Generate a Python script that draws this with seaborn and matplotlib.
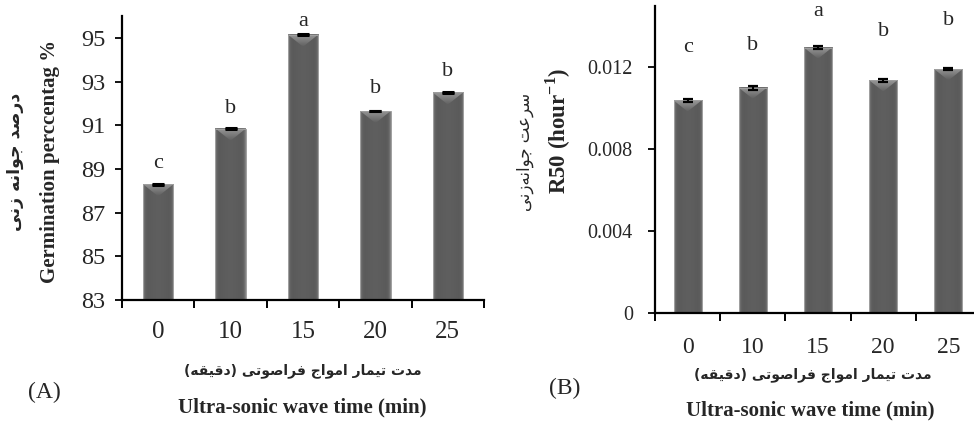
import numpy as np
import pandas as pd
import matplotlib
matplotlib.use("Agg")
import matplotlib.pyplot as plt
from matplotlib.patches import Polygon
import seaborn as sns

# ---- data ----
times = ["0", "10", "15", "20", "25"]
germination = [88.3, 90.85, 95.15, 91.65, 92.5]
germination_err = [0.02, 0.02, 0.02, 0.02, 0.02]
germination_groups = ["c", "b", "a", "b", "b"]

r50 = [0.01039, 0.01101, 0.01297, 0.01137, 0.01191]
r50_err = [0.00008, 0.0001, 0.00007, 0.00008, 0.00006]
r50_groups = ["c", "b", "a", "b", "b"]

germ_ticks = [83, 85, 87, 89, 91, 93, 95]
r50_ticks = [0, 0.004, 0.008, 0.012]
r50_ticklabels = ["0", "0.004", "0.008", "0.012"]

# ---- Persian text shaping (contextual forms + visual order) ----
FORMS = {
    "\u0627": ("\uFE8D", "\uFE8E", None, None),
    "\u062F": ("\uFEA9", "\uFEAA", None, None),
    "\u0631": ("\uFEAD", "\uFEAE", None, None),
    "\u0632": ("\uFEAF", "\uFEB0", None, None),
    "\u0648": ("\uFEED", "\uFEEE", None, None),
    "\u0635": ("\uFEB9", "\uFEBA", "\uFEBB", "\uFEBC"),
    "\u062C": ("\uFE9D", "\uFE9E", "\uFE9F", "\uFEA0"),
    "\u0646": ("\uFEE5", "\uFEE6", "\uFEE7", "\uFEE8"),
    "\u0647": ("\uFEE9", "\uFEEA", "\uFEEB", "\uFEEC"),
    "\u0633": ("\uFEB1", "\uFEB2", "\uFEB3", "\uFEB4"),
    "\u0639": ("\uFEC9", "\uFECA", "\uFECB", "\uFECC"),
    "\u062A": ("\uFE95", "\uFE96", "\uFE97", "\uFE98"),
    "\u0645": ("\uFEE1", "\uFEE2", "\uFEE3", "\uFEE4"),
    "\u0641": ("\uFED1", "\uFED2", "\uFED3", "\uFED4"),
    "\u0642": ("\uFED5", "\uFED6", "\uFED7", "\uFED8"),
    "\u06CC": ("\uFBFC", "\uFBFD", "\uFBFE", "\uFBFF"),
}
MIRROR = {"(": ")", ")": "("}


def rtl(text):
    chars = list(text)
    out = []
    for i, c in enumerate(chars):
        if c not in FORMS:
            if c != "\u200c":
                out.append(MIRROR.get(c, c))
            continue
        prev = chars[i - 1] if i > 0 else None
        nxt = chars[i + 1] if i + 1 < len(chars) else None
        iso, fin, ini, med = FORMS[c]
        join_prev = prev in FORMS and FORMS[prev][2] is not None
        join_next = ini is not None and nxt in FORMS
        if join_prev and join_next:
            out.append(med)
        elif join_prev:
            out.append(fin)
        elif join_next:
            out.append(ini)
        else:
            out.append(iso)
    return "".join(reversed(out))


# ---- style ----
sns.set_theme(style="white")
plt.rcParams["font.family"] = ["Liberation Serif", "DejaVu Sans"]
plt.rcParams["mathtext.fontset"] = "custom"
plt.rcParams["mathtext.rm"] = "Liberation Serif"
plt.rcParams["mathtext.bf"] = "Liberation Serif:bold"

fig = plt.figure(figsize=(9.74, 4.21), dpi=100)
ax1 = fig.add_axes([0.1253, 0.2874, 0.3717, 0.6746])
ax2 = fig.add_axes([0.6725, 0.2565, 0.3347, 0.7292])

# horizontal shading across a bar: light rim, dark body
_t = np.abs(np.linspace(-1, 1, 240))
_g = 0.33 + 0.24 * _t ** 10 + 0.04 * (1 - _t ** 2)
BAR_RGB = np.dstack([_g, _g, _g])[None, 0, :, :]
# vertical shading for the bevel at the top (top row first)
_v = np.linspace(0.60, 0.37, 60)
BEVEL_RGB = np.dstack([_v, _v, _v]).reshape(60, 1, 3)


def style_bars(ax, ylim):
    ax.set_xlim(-0.5, len(times) - 0.5)
    ax.set_ylim(*ylim)
    ax.autoscale(False)
    shapes = []
    for p in list(ax.patches):
        x0, y0 = p.get_x(), p.get_y()
        w, h = p.get_width(), p.get_height()
        top_disp = ax.transData.transform([(x0, y0 + h), (x0 + w, y0 + h)])
        wpx = top_disp[1, 0] - top_disp[0, 0]
        apex = ax.transData.inverted().transform(
            [(top_disp[0, 0] + wpx / 2, top_disp[0, 1] - 0.40 * wpx)])[0]
        shapes.append((p, x0, y0, w, h, apex))
    for p, x0, y0, w, h, apex in shapes:
        im = ax.imshow(BAR_RGB, aspect="auto",
                       extent=[x0, x0 + w, max(y0, ylim[0]), y0 + h],
                       zorder=2, interpolation="bilinear")
        im.set_clip_path(p)
        im.set_clip_box(ax.bbox)
        tri = Polygon([(x0, y0 + h), (x0 + w, y0 + h), (apex[0], apex[1])],
                      closed=True, facecolor="none", edgecolor="none",
                      zorder=3)
        ax.add_patch(tri)
        bev = ax.imshow(BEVEL_RGB, aspect="auto",
                        extent=[x0, x0 + w, apex[1], y0 + h], zorder=3,
                        interpolation="bilinear")
        bev.set_clip_path(tri)
        p.set_facecolor("none")
        p.set_edgecolor("#a0a0a0")
        p.set_linewidth(0.7)
        p.set_zorder(4)
    ax.set_xlim(-0.5, len(times) - 0.5)
    ax.set_ylim(*ylim)


def frame(ax):
    for s in ("top", "right"):
        ax.spines[s].set_visible(False)
    for s in ("left", "bottom"):
        ax.spines[s].set_color("black")
        ax.spines[s].set_linewidth(1.6)
        ax.spines[s].set_zorder(5)
    ax.set_xticks(np.arange(len(times)))
    ax.set_xticks(np.arange(-0.5, len(times), 1.0), minor=True)
    ax.tick_params(axis="x", which="major", length=0, pad=15)
    ax.tick_params(axis="x", which="minor", length=6, width=1.4,
                   direction="out", color="black", bottom=True)
    ax.tick_params(axis="y", length=5, width=1.3, direction="out",
                   color="black", left=True)
    ax.set_xlabel("")
    ax.set_ylabel("")


# ---- panel A ----
dfa = pd.DataFrame({"time": times, "value": germination})
sns.barplot(data=dfa, x="time", y="value", ax=ax1, width=0.42,
            color="#555555", errorbar=None)
frame(ax1)
ax1.set_yticks(germ_ticks)
ax1.set_yticklabels([str(t) for t in germ_ticks], fontsize=17.5)
ax1.set_xticklabels(times, fontsize=18)
ax1.tick_params(axis="y", pad=7)
style_bars(ax1, (83, 96))
ax1.errorbar(np.arange(len(times)), germination, yerr=germination_err,
             fmt="none", ecolor="black", elinewidth=1.5, capsize=4.5,
             capthick=2.2, zorder=6)
for i, (v, g, off) in enumerate(zip(germination, germination_groups,
                                    [12, 11.5, 6.5, 13, 12])):
    ax1.annotate(g, (i, v), xytext=(0, off), textcoords="offset points",
                 ha="center", va="baseline", fontsize=16,
                 annotation_clip=False)

# ---- panel B ----
dfb = pd.DataFrame({"time": times, "value": r50})
sns.barplot(data=dfb, x="time", y="value", ax=ax2, width=0.43,
            color="#555555", errorbar=None)
frame(ax2)
ax2.set_yticks(r50_ticks)
ax2.set_yticklabels(r50_ticklabels, fontsize=14.5)
ax2.set_xticklabels(times, fontsize=17)
ax2.tick_params(axis="y", pad=11)
ax2.tick_params(axis="x", which="major", pad=17)
style_bars(ax2, (0, 0.015))
ax2.errorbar(np.arange(len(times)), r50, yerr=r50_err, fmt="none",
             ecolor="black", elinewidth=1.5, capsize=3.8, capthick=1.6,
             zorder=6)
for i, (v, g, off) in enumerate(zip(r50, r50_groups, [35, 27, 23, 32, 32])):
    ax2.annotate(g, (i, v), xytext=(0, off), textcoords="offset points",
                 ha="center", va="baseline", fontsize=16,
                 annotation_clip=False)

# ---- axis titles ----
fa = ["DejaVu Sans"]
fig.text(0.0154, 0.615, rtl("درصد جوانه زنی"), rotation=90, ha="center",
         va="center", family=fa, fontweight="bold", fontsize=12.5)
fig.text(0.0513, 0.616, "Germination perccentag %", rotation=90, ha="center",
         va="center", fontweight="bold", fontsize=15)
fig.text(0.539, 0.64, rtl("سرعت جوانه\u200cزنی"), rotation=90, ha="center",
         va="center", family=fa, fontsize=12)
fig.text(0.573, 0.688, r"R50 (hour$^{\mathbf{-1}}$)", rotation=90,
         ha="center", va="center", fontweight="bold", fontsize=16.5)

xlab_fa = rtl("مدت تیمار امواج فراصوتی (دقیقه)")
fig.text(0.311, 0.119, xlab_fa, ha="center", va="center", family=fa,
         fontweight="bold", fontsize=10)
fig.text(0.310, 0.033, "Ultra-sonic wave time (min)", ha="center",
         va="center", fontweight="bold", fontsize=15)
fig.text(0.834, 0.109, xlab_fa, ha="center", va="center", family=fa,
         fontweight="bold", fontsize=10)
fig.text(0.832, 0.026, "Ultra-sonic wave time (min)", ha="center",
         va="center", fontweight="bold", fontsize=15)

fig.text(0.046, 0.067, "(A)", ha="center", va="center", fontsize=17)
fig.text(0.580, 0.078, "(B)", ha="center", va="center", fontsize=17)

fig.savefig("out.png", dpi=100)
